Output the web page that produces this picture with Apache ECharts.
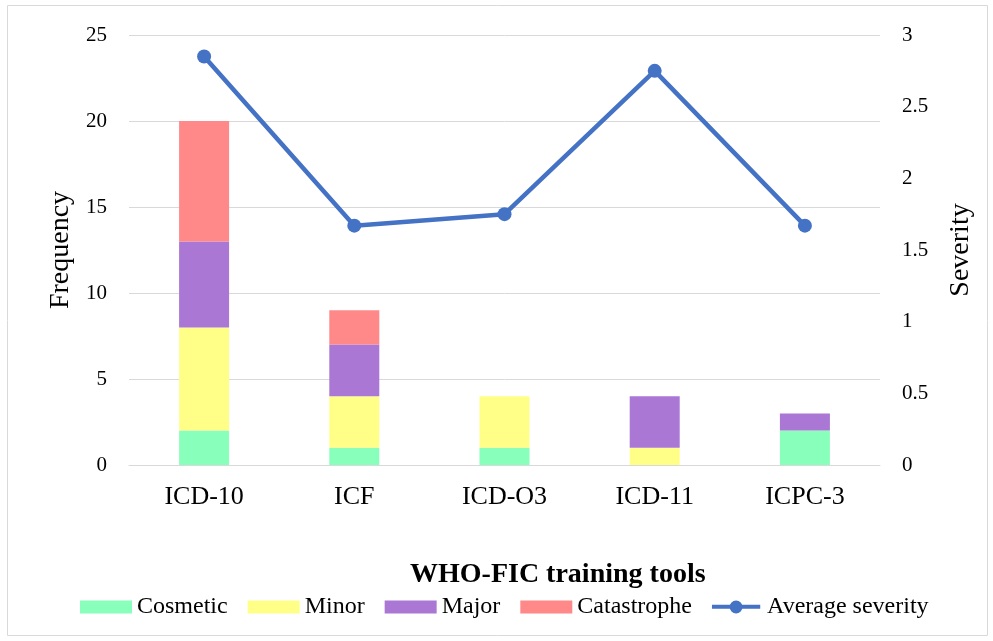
<!DOCTYPE html>
<html><head><meta charset="utf-8">
<script src="https://cdn.jsdelivr.net/npm/echarts@6/dist/echarts.min.js"></script>
<style>html,body{margin:0;padding:0;background:#fff}#c{width:993px;height:641px}</style>
</head><body><div id="c"></div>
<script>
var categories = ['ICD-10', 'ICF', 'ICD-O3', 'ICD-11', 'ICPC-3'];
var cosmetic = [2, 1, 1, 0, 2];
var minor = [6, 3, 3, 1, 0];
var major = [5, 3, 0, 3, 1];
var catastrophe = [7, 2, 0, 0, 0];
var avgSeverity = [2.85, 1.67, 1.75, 2.75, 1.67];

var font = 'Liberation Serif';
var chart = echarts.init(document.getElementById('c'));
function bar(name, data, color) {
  return { name: name, type: 'bar', stack: 's', data: data, barWidth: 50,
    itemStyle: { color: color }, emphasis: { disabled: true } };
}
chart.setOption({
  animation: false,
  textStyle: { fontFamily: font },
  graphic: [{ type: 'rect', shape: { x: 7.5, y: 5.5, width: 980, height: 630 },
    style: { fill: 'none', stroke: '#d9d9d9', lineWidth: 1 } }],
  title: {
    text: 'WHO-FIC training tools', left: 410, top: 561, padding: 0,
    textStyle: { fontFamily: font, fontSize: 28, fontWeight: 'bold', color: '#000' }
  },
  grid: { left: 129, right: 113, top: 35, bottom: 176 },
  legend: {
    top: 595, left: 80, itemWidth: 52, itemHeight: 13, itemGap: 20, padding: 0,
    textStyle: { fontFamily: font, fontSize: 24, color: '#000' },
    data: [
      { name: 'Cosmetic', icon: 'rect' }, { name: 'Minor', icon: 'rect' },
      { name: 'Major', icon: 'rect' }, { name: 'Catastrophe', icon: 'rect' },
      { name: 'Average severity',
        icon: 'path://M0,5.5h52v4.5h-52z M19,8a7,7 0 1,1 14,0a7,7 0 1,1 -14,0z' }
    ]
  },
  xAxis: {
    type: 'category', data: categories,
    axisLine: { lineStyle: { color: '#d9d9d9' } }, axisTick: { show: false },
    axisLabel: { fontFamily: font, fontSize: 26, color: '#000', margin: 19 }
  },
  yAxis: [{
    type: 'value', min: 0, max: 25, interval: 5,
    name: 'Frequency', nameLocation: 'middle', nameGap: 53,
    nameTextStyle: { fontFamily: font, fontSize: 28, color: '#000' },
    axisLabel: { fontFamily: font, fontSize: 21, color: '#000', margin: 22 },
    splitLine: { lineStyle: { color: '#d9d9d9' } }
  }, {
    type: 'value', min: 0, max: 3, interval: 0.5,
    name: 'Severity', nameLocation: 'middle', nameGap: 67, nameRotate: 90,
    nameTextStyle: { fontFamily: font, fontSize: 28, color: '#000' },
    axisLabel: { fontFamily: font, fontSize: 21, color: '#000', margin: 22 },
    splitLine: { show: false }
  }],
  series: [
    bar('Cosmetic', cosmetic, '#88ffbb'),
    bar('Minor', minor, '#ffff88'),
    bar('Major', major, '#aa77d4'),
    bar('Catastrophe', catastrophe, '#ff8888'),
    { name: 'Average severity', type: 'line', yAxisIndex: 1, data: avgSeverity,
      symbol: 'circle', symbolSize: 14, lineStyle: { color: '#4472c4', width: 4.5 },
      itemStyle: { color: '#4472c4' } }
  ]
});
</script></body></html>
